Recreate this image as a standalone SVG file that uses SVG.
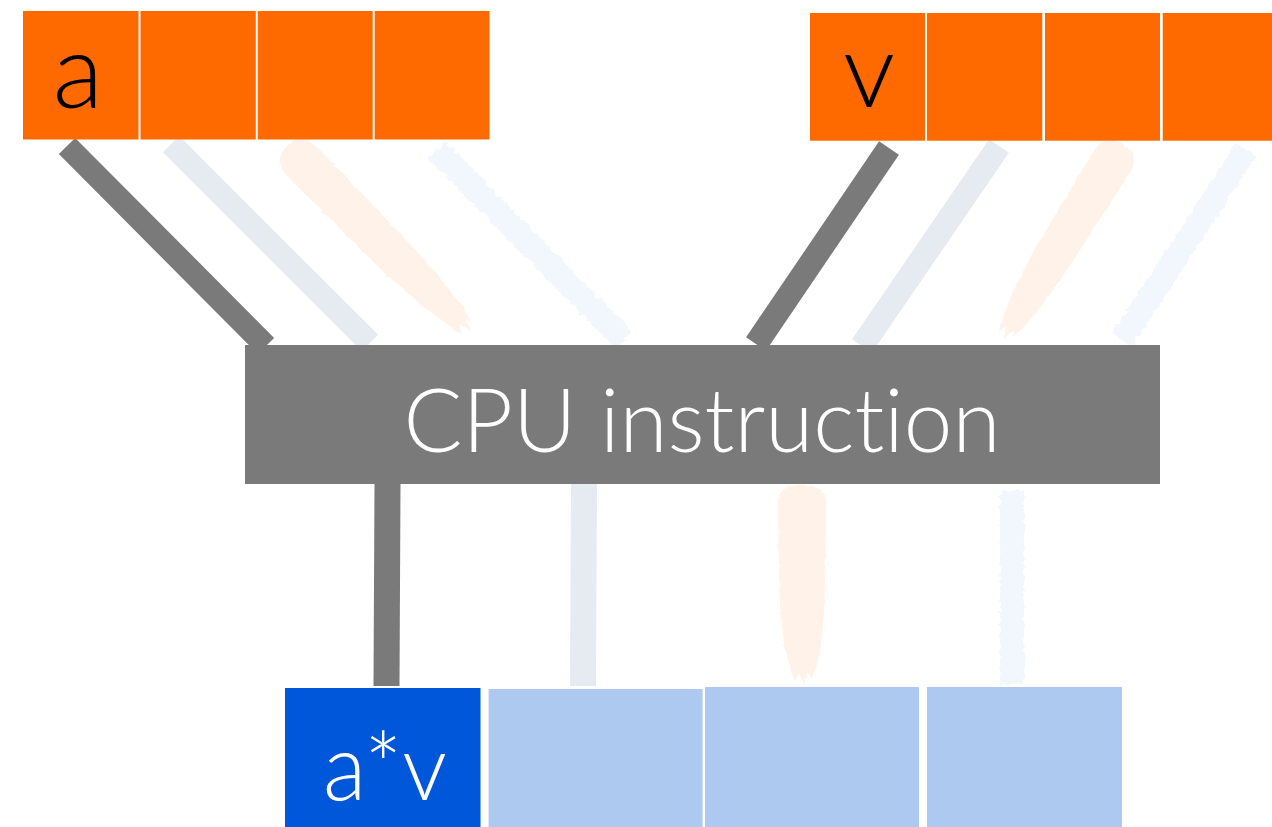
<svg xmlns="http://www.w3.org/2000/svg" width="1272" height="827" viewBox="0 0 1272 827">
  <style>
    .in { fill: #ff6a00; }
    .out { fill: #adc9f0; }
    .res { fill: #0057d9; }
    .cpu { fill: #7a7a7a; }
    .lbl { font-family: "Lato", "Open Sans", "Liberation Sans", sans-serif; text-anchor: middle; font-variant-ligatures: none; }
    .lane0 { stroke: #7a7a7a; fill: none; }
    .lane1 { stroke: #e6ebf2; fill: none; }
    .lane2 { fill: #fff2e8; }
    .lane3 { stroke: #f2f6fd; fill: none; }
  </style>
  <defs>
    <!-- ragged edge for the dry-brush lanes (user-space region so straight lines keep their area) -->
    <filter id="rough" filterUnits="userSpaceOnUse" x="0" y="0" width="1272" height="827">
      <feTurbulence type="fractalNoise" baseFrequency="0.18" numOctaves="2" seed="3" result="n"/>
      <feDisplacementMap in="SourceGraphic" in2="n" scale="7" xChannelSelector="R" yChannelSelector="G"/>
    </filter>
    <filter id="soft" filterUnits="userSpaceOnUse" x="0" y="0" width="1272" height="827">
      <feTurbulence type="fractalNoise" baseFrequency="0.1" numOctaves="2" seed="7" result="n"/>
      <feDisplacementMap in="SourceGraphic" in2="n" scale="3" xChannelSelector="R" yChannelSelector="G"/>
    </filter>
    <!-- wide brush stroke: rounded head, frayed tail; origin at head apex, runs along +y -->
    <path id="brush" d="M -22,22 Q -22,0 0,0 Q 22,0 22,22 L 21,110 L 20,160 L 17,200 L 13,225 L 9,240 L 6,232 L 2,246 L -2,234 L -7,242 L -11,224 L -16,198 L -20,150 L -21,100 Z"/>
  </defs>

  <!-- lanes from the input registers into the instruction -->
  <g id="connectors">
    <line class="lane0" x1="67" y1="146" x2="266" y2="346" stroke-width="23"/>
    <line class="lane1" x1="171" y1="144" x2="370" y2="343" stroke-width="23"/>
    <g filter="url(#soft)"><use href="#brush" class="lane2" transform="translate(287,146) rotate(-44.4) scale(0.95,1.06)"/></g>
    <line class="lane3" x1="437" y1="150" x2="624" y2="340" stroke-width="24" filter="url(#rough)"/>

    <line class="lane0" x1="889" y1="148" x2="756" y2="344" stroke-width="24"/>
    <line class="lane1" x1="999" y1="146" x2="862" y2="346" stroke-width="24"/>
    <g filter="url(#soft)"><use href="#brush" class="lane2" transform="translate(1123,144) rotate(32) scale(0.95,0.93)"/></g>
    <line class="lane3" x1="1246" y1="150" x2="1122" y2="340" stroke-width="24" filter="url(#rough)"/>

    <!-- lanes from the instruction into the result register -->
    <line class="lane0" x1="387.5" y1="484" x2="386.5" y2="686" stroke-width="26"/>
    <line class="lane1" x1="584" y1="484" x2="583" y2="686" stroke-width="26"/>
    <g filter="url(#soft)"><use href="#brush" class="lane2" transform="translate(802,485) scale(1.1,0.81)"/></g>
    <line class="lane3" x1="1012" y1="490" x2="1012" y2="684" stroke-width="24" filter="url(#rough)"/>
  </g>

  <g id="vec-a">
    <rect class="in" x="23" y="11" width="115.5" height="128.5"/>
    <rect class="in" x="140.5" y="11" width="115.3" height="128.5"/>
    <rect class="in" x="257.7" y="11" width="115" height="128.5"/>
    <rect class="in" x="374.7" y="11" width="114.8" height="128.5"/>
    <text class="lbl" x="78" y="108" font-size="104" font-weight="300" fill="#000">a</text>
  </g>

  <g id="vec-v">
    <rect class="in" x="810" y="13" width="115" height="127.7"/>
    <rect class="in" x="927" y="13" width="115.3" height="127.7"/>
    <rect class="in" x="1045" y="13" width="115" height="127.7"/>
    <rect class="in" x="1162.7" y="13" width="109.3" height="127.7"/>
    <text class="lbl" x="869" y="107" font-size="104" font-weight="300" fill="#000">v</text>
  </g>

  <g id="cpu">
    <rect class="cpu" x="245" y="345" width="915" height="139"/>
    <text class="lbl" x="702" y="452" font-size="89" font-weight="300" fill="#fff" textLength="597" lengthAdjust="spacingAndGlyphs">CPU instruction</text>
  </g>

  <g id="vec-result">
    <rect class="res" x="285" y="688" width="195.5" height="139"/>
    <rect class="out" x="488.6" y="689" width="214" height="138"/>
    <rect class="out" x="705" y="687" width="214" height="140"/>
    <rect class="out" x="927" y="687" width="195" height="140"/>
    <text class="lbl" x="385" y="800" font-size="93" font-weight="300" fill="#fff" textLength="124" lengthAdjust="spacingAndGlyphs">a*v</text>
  </g>
</svg>
